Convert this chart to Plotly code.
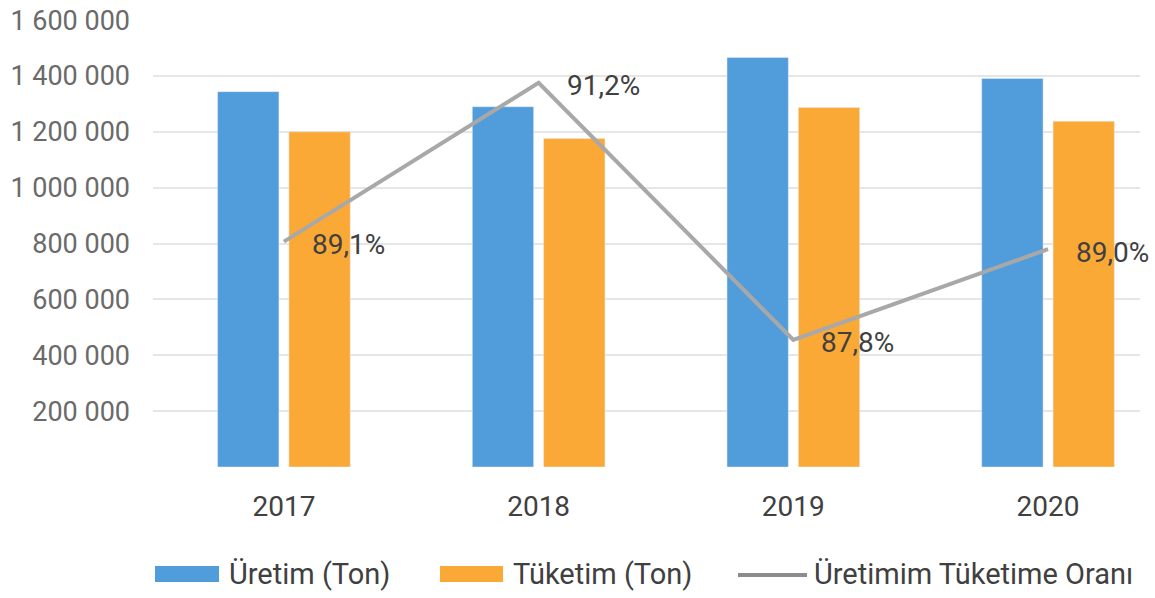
import plotly.graph_objects as go

years = ["2017", "2018", "2019", "2020"]
uretim = [1344000, 1290000, 1466000, 1391000]
tuketim = [1200000, 1176000, 1287000, 1238000]
oran = [89.1, 91.2, 87.8, 89.0]
oran_labels = ["89,1%", "91,2%", "87,8%", "89,0%"]
y_ticks = [0, 200000, 400000, 600000, 800000, 1000000, 1200000, 1400000, 1600000]
y_ticktext = ["", "200 000", "400 000", "600 000", "800 000", "1 000 000", "1 200 000", "1 400 000", "1 600 000"]
series_names = ["Üretim (Ton)", "Tüketim (Ton)", "Üretimim Tüketime Oranı"]
series_colors = ["#519CDA", "#FAA937", "#A8A8A8"]

FONT = "Roboto, sans-serif"
W, H = 1155, 598
ML, MR, MT, MB = 153, 15, 20, 131
PW, PH = W - ML - MR, H - MT - MB
x = list(range(len(years)))


def px_x(p):
    return (p - ML) / PW


def px_y(p):
    return (H - MB - p) / PH


fig = go.Figure()
fig.add_trace(go.Bar(x=x, y=uretim, name=series_names[0], marker_color=series_colors[0]))
fig.add_trace(go.Bar(x=x, y=tuketim, name=series_names[1], marker_color=series_colors[1]))
fig.add_trace(go.Scatter(
    x=x, y=oran, name=series_names[2], yaxis="y2",
    mode="lines", line=dict(color=series_colors[2], width=4),
))

for xi, yi, lab in zip(x, oran, oran_labels):
    fig.add_annotation(
        x=xi, y=yi, xref="x", yref="y2", text=lab, showarrow=False,
        xanchor="left", yanchor="middle", xshift=26, yshift=-3,
        font=dict(size=28, color="#404040", family=FONT),
    )

# legend drawn at the bottom (swatch + label)
legend_items = [
    (series_names[0], series_colors[0], "rect", 155, 219, 227),
    (series_names[1], series_colors[1], "rect", 440, 503, 511),
    (series_names[2], series_colors[2], "line", 738, 807, 812),
]
LEG_Y = 574
for name, color, kind, x0, x1, tx in legend_items:
    if kind == "rect":
        fig.add_shape(type="rect", xref="paper", yref="paper",
                      x0=px_x(x0), x1=px_x(x1), y0=px_y(LEG_Y + 8), y1=px_y(LEG_Y - 8),
                      fillcolor=color, line=dict(width=0))
    else:
        fig.add_shape(type="line", xref="paper", yref="paper",
                      x0=px_x(x0), x1=px_x(x1), y0=px_y(LEG_Y + 1), y1=px_y(LEG_Y + 1),
                      line=dict(color="#8C8C8C", width=4))
    fig.add_annotation(x=px_x(tx), y=px_y(LEG_Y), xref="paper", yref="paper",
                       text=name, showarrow=False, xanchor="left", yanchor="middle",
                       font=dict(size=29, color="#404040", family=FONT))

fig.update_layout(
    width=W, height=H,
    margin=dict(l=ML, r=MR, t=MT, b=MB, autoexpand=False),
    paper_bgcolor="white", plot_bgcolor="white",
    barmode="group", bargap=0.44, bargroupgap=0.14,
    font=dict(family=FONT, color="#595959"),
    showlegend=False,
    xaxis=dict(
        tickvals=x, ticktext=years, range=[-0.514, 3.361],
        showgrid=False, zeroline=False, showline=False, automargin=False,
        tickfont=dict(size=28, color="#404040"), ticks="", ticklabelstandoff=20,
    ),
    yaxis=dict(
        range=[0, 1600500], tickvals=y_ticks, ticktext=y_ticktext,
        showgrid=True, gridcolor="#E6E6E6", gridwidth=1.5, zeroline=False,
        tickfont=dict(size=27, color="#6A6A6A"), ticklabelstandoff=22,
        automargin=False,
    ),
    yaxis2=dict(
        overlaying="y", side="right", range=[86.12, 92.03],
        showgrid=False, showticklabels=False, zeroline=False,
    ),
)

fig.write_html("out.html", config={"displayModeBar": False},
               post_script="document.body.style.margin='0';")
